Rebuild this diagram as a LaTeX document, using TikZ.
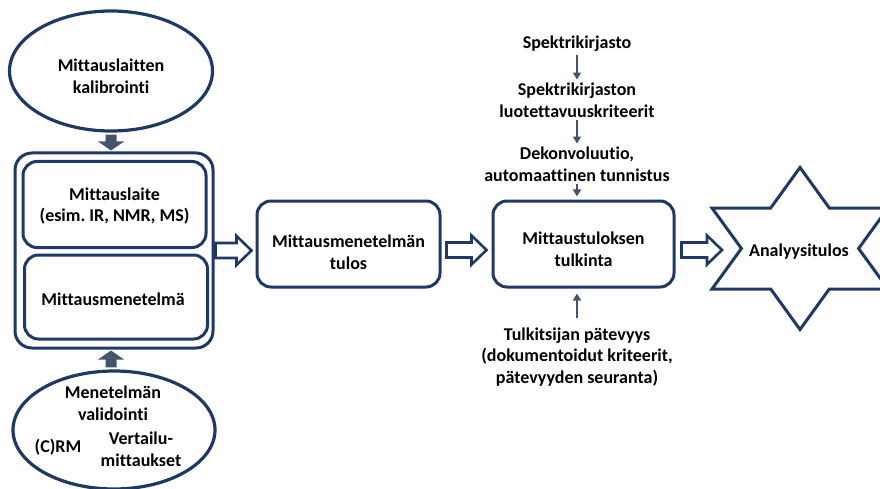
\documentclass[tikz,border=0pt]{standalone}
\usepackage{fontspec}
\setmainfont{Carlito}[RawFeature=-liga]
\usetikzlibrary{shapes.geometric,arrows.meta,calc}
\definecolor{navy}{HTML}{1F3864}
\definecolor{slate}{HTML}{44546A}
\frenchspacing
\newcommand\harrow[2]{%
  \path[draw=navy, line width=2.6pt, fill=white, line join=miter]
    let \p1=(#1), \p2=(#2) in
    (\x1,\y1+7.5pt) -- (\x2-15pt,\y1+7.5pt) -- (\x2-15pt,\y1+14.5pt) -- (\x2,\y1)
    -- (\x2-15pt,\y1-14.5pt) -- (\x2-15pt,\y1-7.5pt) -- (\x1,\y1-7.5pt) -- cycle;}
\begin{document}
\begin{tikzpicture}[x=1pt,y=-1pt,
  txt/.style={font=\fontsize{18}{21.8}\selectfont\bfseries\frenchspacing, align=center, text=black, inner sep=1pt},
  ell/.style={ellipse, draw=navy, line width=3.2pt, fill=white, inner sep=0pt},
  rbox/.style={rectangle, rounded corners=14pt, draw=navy, line width=3pt, inner sep=0pt},
  thinarrow/.style={draw=slate, line width=1.6pt, -{Triangle[length=7pt,width=8pt]}}]
\useasboundingbox (0,0) rectangle (880,489);
\fill[white] (0,0) rectangle (880,489);

% left column
\node[ell, minimum width=203pt, minimum height=120pt] (cal) at (111,71) {};
\node[txt] (caltxt) at (111,76) {Mittauslaitten\\kalibrointi};

\node[rbox, minimum width=198pt, minimum height=195pt, rounded corners=17pt] (outer) at (114,250.5) {};
\node[rbox, minimum width=183pt, minimum height=86pt] (dev) at (114.5,204.5) {};
\node[txt] (devtxt) at (114.5,206) {Mittauslaite\\(esim. IR, NMR, MS)};
\node[rbox, minimum width=183pt, minimum height=84pt] (meth) at (116,297) {};
\node[txt] (methtxt) at (113,299) {Mittausmenetelmä};

\node[ell, minimum width=202pt, minimum height=118pt] (val) at (114,430) {};
\node[txt] (valtxt) at (113,403) {Menetelmän\\validointi};
\node[txt] (crm) at (58,447) {(C)RM};
\node[txt] (vert) at (141,449) {Vertailu-\\mittaukset};

% filled block arrows
\fill[slate] let \p1=($(cal.south)+(0,2)$), \p2=($(outer.north)+(0,-1)$) in
  (\x1-5.5pt,\y1) -- (\x1-5.5pt,\y2+9pt) -- (\x1-13pt,\y2+9pt) -- (\x1,\y2)
  -- (\x1+13pt,\y2+9pt) -- (\x1+5.5pt,\y2+9pt) -- (\x1+5.5pt,\y1) -- cycle;
\fill[slate] let \p1=($(val.north)+(-3,-2)$), \p2=($(outer.south)+(0,1)$) in
  (\x1-5.5pt,\y1) -- (\x1-5.5pt,\y2-9pt) -- (\x1-13pt,\y2-9pt) -- (\x1,\y2)
  -- (\x1+13pt,\y2-9pt) -- (\x1+5.5pt,\y2-9pt) -- (\x1+5.5pt,\y1) -- cycle;

% middle boxes
\node[rbox, minimum width=183pt, minimum height=86pt] (res) at (348.5,244) {};
\node[txt] (restxt) at (348.5,252) {Mittausmenetelmän\\tulos};
\node[rbox, minimum width=181pt, minimum height=86pt] (interp) at (583.5,244) {};
\node[txt] (interptxt) at (583.5,249) {Mittaustuloksen\\tulkinta};

% star
\coordinate (sc) at (800,248.5);
\draw[navy, line width=3pt, fill=white, line join=miter]
  (800,167.5) -- (829.3,208) -- (888,208) -- (858.6,248.5) -- (888,289) -- (829.3,289)
  -- (800,329.5) -- (770.7,289) -- (712,289) -- (741.4,248.5) -- (712,208) -- (770.7,208) -- cycle;
\node[txt] (star) at (799,252) {Analyysitulos};
\coordinate (starleft) at (722,250);

% hollow arrows
\harrow{$(outer.east)+(1,0)$}{$(res.west)+(-4,6)$}
\harrow{$(res.east)+(5,6)$}{$(interp.west)+(-5,6)$}
\harrow{$(interp.east)+(6,6)$}{starleft}

% library texts
\node[txt] (lib) at (577,44) {Spektrikirjasto};
\node[txt] (rel) at (577,100) {Spektrikirjaston\\luotettavuuskriteerit};
\node[txt] (dec) at (577,164) {Dekonvoluutio,\\automaattinen tunnistus};
\node[txt] (tulk) at (577,357) {Tulkitsijan pätevyys\\(dokumentoidut kriteerit,\\pätevyyden seuranta)};

\draw[thinarrow] ($(lib.south)+(0,2)$) -- ($(rel.north)+(0,-2)$);
\draw[thinarrow] ($(rel.south)+(0,2)$) -- ($(dec.north)+(0,-2)$);
\draw[thinarrow] ($(dec.south)+(0,2)$) -- ($(dec.south |- interp.north)+(0,-3)$);
\draw[thinarrow] ($(tulk.north)+(0,-8)$) -- ($(tulk.north |- interp.south)+(0,5)$);
\end{tikzpicture}
\end{document}
